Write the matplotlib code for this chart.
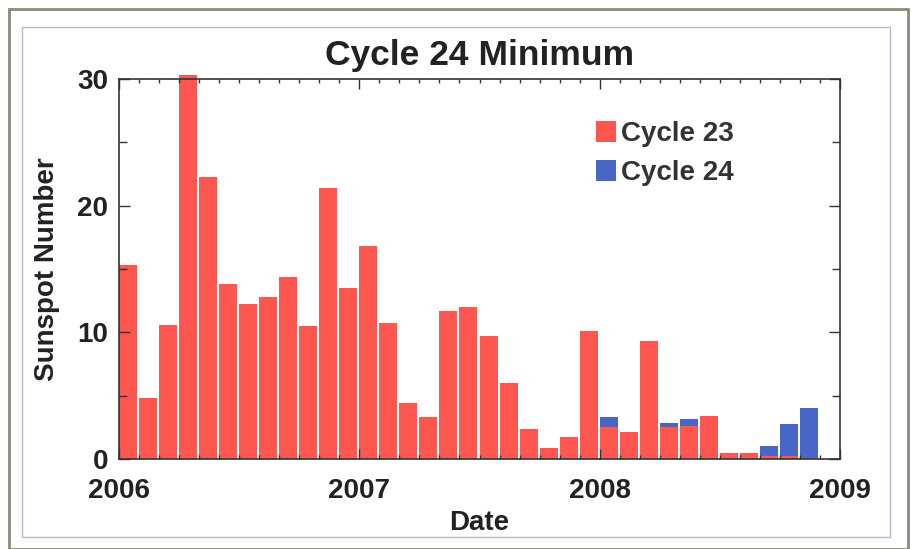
import matplotlib
matplotlib.use("Agg")
import matplotlib.pyplot as plt
from matplotlib.patches import Patch, Rectangle
from matplotlib.ticker import MultipleLocator, FixedLocator, FuncFormatter

plt.rcParams['font.family'] = ['Liberation Sans', 'DejaVu Sans']
plt.rcParams['font.weight'] = 'bold'

# Monthly sunspot numbers, Jan 2006 .. Dec 2008
months = [f"{y}-{m:02d}" for y in (2006, 2007, 2008) for m in range(1, 13)]
cycle23 = [15.3, 4.8, 10.6, 30.3, 22.3, 13.8, 12.2, 12.8, 14.4, 10.5, 21.4, 13.5,
           16.8, 10.7, 4.4, 3.3, 11.7, 12.0, 9.7, 6.0, 2.4, 0.9, 1.7, 10.1,
           2.5, 2.1, 9.3, 2.5, 2.6, 3.4, 0.45, 0.45, 0.25, 0.2, 0.05, 0.0]
cycle24 = [0.0] * 24 + [0.8, 0.0, 0.0, 0.35, 0.55, 0.0, 0.0, 0.0, 0.8, 2.6, 4.0, 0.0]
year_ticks = [2006, 2007, 2008, 2009]

red = '#FF5750'
blue = '#4766C6'
ink = '#222222'

fig = plt.figure(figsize=(9.13, 5.49), dpi=100)

# outer and inner frames around the panel
fig.patches.append(Rectangle((9 / 913, 0.0), 899 / 913, 1 - 9 / 549, transform=fig.transFigure,
                             fill=False, edgecolor='#8a8a78', linewidth=2.0, zorder=0))
fig.patches.append(Rectangle((22 / 913, 12 / 549), 868 / 913, 510 / 549, transform=fig.transFigure,
                             fill=False, edgecolor='#b8b8d0', linewidth=1.0, zorder=0))

ax = fig.add_axes([119 / 913, 1 - 459 / 549, 721 / 913, 380 / 549])

x = [2006 + i / 12 for i in range(len(months))]
w = 0.9 / 12
ax.bar(x, cycle23, width=w, align='edge', color=red, linewidth=0, label='Cycle 23', clip_on=False)
ax.bar(x, cycle24, width=w, align='edge', bottom=cycle23, color=blue, linewidth=0,
       label='Cycle 24', clip_on=False)

ax.set_xlim(2006, 2009)
ax.set_ylim(0, 30)

ax.xaxis.set_major_locator(FixedLocator(year_ticks))
ax.xaxis.set_minor_locator(MultipleLocator(1 / 12))
ax.xaxis.set_major_formatter(FuncFormatter(lambda v, p: f"{int(round(v))}"))
ax.yaxis.set_major_locator(MultipleLocator(10))
ax.yaxis.set_minor_locator(MultipleLocator(5))

ax.tick_params(axis='both', which='both', direction='in', top=True, right=True,
               colors='#333333', labelcolor=ink, labelsize=20)
ax.tick_params(axis='y', which='major', length=8, width=1, pad=8)
ax.tick_params(axis='y', which='minor', length=6, width=1)
ax.tick_params(axis='x', which='major', length=7, width=1, pad=14)
ax.tick_params(axis='x', which='minor', length=3, width=1)
for lab in ax.get_xticklabels() + ax.get_yticklabels():
    lab.set_fontweight('bold')

for s in ax.spines.values():
    s.set_color('#333333')
    s.set_linewidth(1.2)

ax.set_xlabel('Date', fontsize=20, fontweight='bold', color=ink, labelpad=4)
ax.set_ylabel('Sunspot Number', fontsize=20, fontweight='bold', color=ink, labelpad=12)
ax.set_title('Cycle 24 Minimum', fontsize=25.5, fontweight='bold', color=ink, pad=10)

handles = [Patch(facecolor=red, edgecolor='none'), Patch(facecolor=blue, edgecolor='none')]
leg = ax.legend(handles, ['Cycle 23', 'Cycle 24'], loc='upper left',
                bbox_to_anchor=(0.662, 0.89), frameon=False, fontsize=20,
                handlelength=0.7, handleheight=0.8, handletextpad=0.2,
                labelspacing=0.45, borderpad=0, borderaxespad=0)
for t in leg.get_texts():
    t.set_color('#333333')
    t.set_fontweight('bold')

fig.savefig('out.png', dpi=100)
